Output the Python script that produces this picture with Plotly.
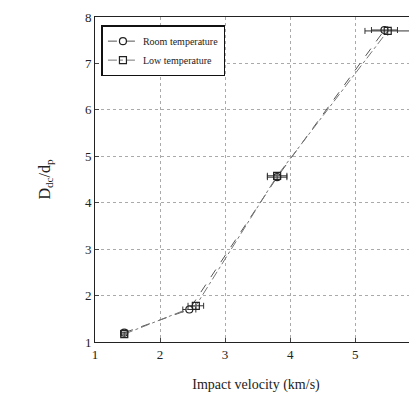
import plotly.graph_objects as go

room_v = [1.45, 2.45, 3.8, 5.45]
room_d = [1.2, 1.7, 4.55, 7.72]
room_err = [0.05, 0.1, 0.15, 0.2]

low_v = [1.45, 2.55, 3.8, 5.5]
low_d = [1.17, 1.78, 4.58, 7.7]
low_err = [0.05, 0.12, 0.15, 0.35]

x_ticks = [1, 2, 3, 4, 5, 6]
y_ticks = [1, 2, 3, 4, 5, 6, 7, 8]

fig = go.Figure()
fig.add_trace(go.Scatter(
    x=room_v, y=room_d, name="Room temperature", mode="lines+markers",
    line=dict(color="#555", width=1, dash="dash"),
    marker=dict(symbol="circle-open", size=7, color="#222", line=dict(width=1.2)),
    error_x=dict(type="data", array=room_err, color="#333", thickness=1, width=3),
))
fig.add_trace(go.Scatter(
    x=low_v, y=low_d, name="Low temperature", mode="lines+markers",
    line=dict(color="#777", width=1, dash="dashdot"),
    marker=dict(symbol="square-open", size=7, color="#222", line=dict(width=1.2)),
    error_x=dict(type="data", array=low_err, color="#333", thickness=1, width=3),
    error_y=dict(type="data", array=[0.05, 0.08, 0.08, 0.1], color="#333", thickness=1, width=0),
))

font = "Liberation Serif"
fig.update_layout(
    width=409, height=396,
    margin=dict(l=87, r=0, t=9, b=62),
    paper_bgcolor="white", plot_bgcolor="white",
    font=dict(family=font, color="#222", size=12),
    showlegend=True,
    legend=dict(x=0.02, y=0.975, xanchor="left", yanchor="top",
                bgcolor="white", bordercolor="#111", borderwidth=1.5,
                font=dict(size=10, family=font), tracegroupgap=0,
                itemwidth=30),
)
fig.update_xaxes(
    range=[1, 5.95], tickvals=x_ticks, ticks="inside", ticklen=4,
    showline=True, linecolor="#222", linewidth=1, mirror=True,
    showgrid=True, gridcolor="#aaa", griddash="dot", gridwidth=1,
    zeroline=False,
    title=dict(text="Impact velocity (km/s)", font=dict(size=14, family=font), standoff=18),
    tickfont=dict(size=13, family=font),
)
fig.update_yaxes(
    range=[1, 8], tickvals=y_ticks, ticks="inside", ticklen=4,
    showline=True, linecolor="#222", linewidth=1, mirror=True,
    showgrid=True, gridcolor="#aaa", griddash="dot", gridwidth=1,
    zeroline=False,
    title=dict(text="D<sub>dc</sub>/d<sub>p</sub>", font=dict(size=16, family=font), standoff=30),
    tickfont=dict(size=13, family=font),
)
fig.write_html("out.html")
